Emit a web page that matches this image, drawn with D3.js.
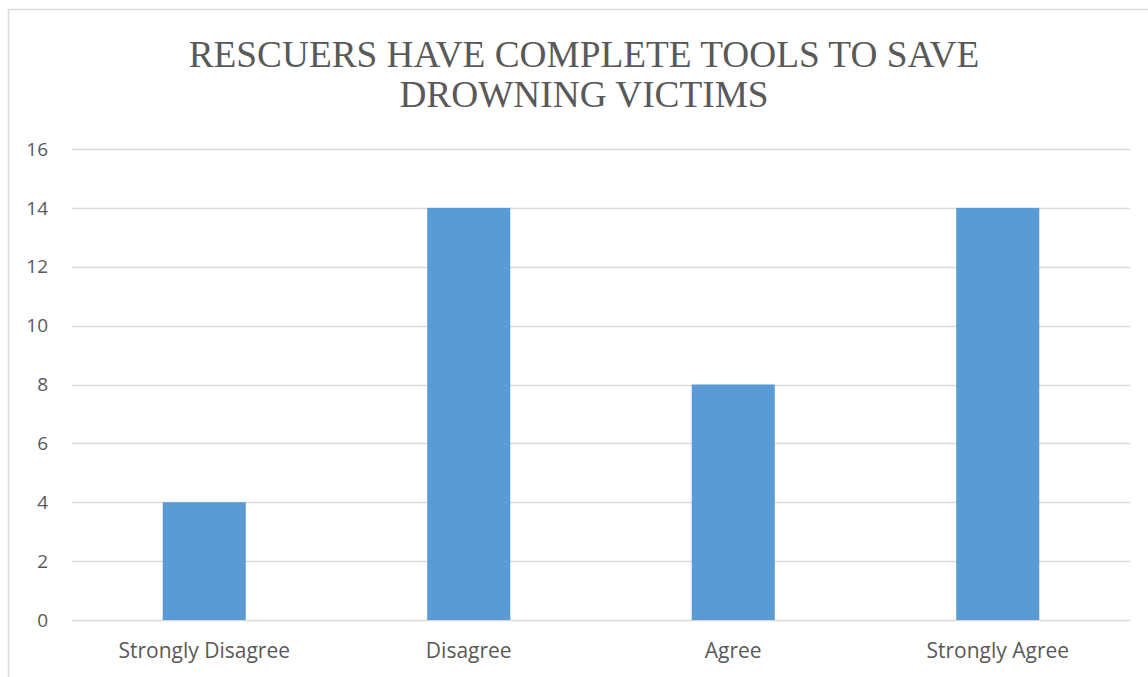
<!DOCTYPE html>
<html>
<head>
<meta charset="utf-8">
<script src="https://cdn.jsdelivr.net/npm/d3@7"></script>
<style>
  body { margin: 0; background: #fff; }
  svg { display: block; }
</style>
</head>
<body>
<svg id="chart"></svg>
<script>
// Chart data
let categories = ['Strongly Disagree', 'Disagree', 'Agree', 'Strongly Agree'];
let counts = [4, 14, 8, 14];
let yTicks = [0, 2, 4, 6, 8, 10, 12, 14, 16];
let titleLines = ['RESCUERS HAVE COMPLETE TOOLS TO SAVE', 'DROWNING VICTIMS'];

let width = 1148;
let height = 677;

// plot area
let plotLeft = 72, plotRight = 1130, plotTop = 149, plotBottom = 620;

let svg = d3.select('#chart')
    .attr('width', width)
    .attr('height', height);

// chart border (runs off the right and bottom edges)
svg.append('rect')
    .attr('x', 8.5)
    .attr('y', 9.5)
    .attr('width', width + 10)
    .attr('height', height + 10)
    .attr('fill', 'none')
    .attr('stroke', '#d9d9d9')
    .attr('stroke-width', 1.5);

let x = d3.scaleBand()
    .domain(categories)
    .range([plotLeft, plotRight])
    .paddingInner(0.686)
    .paddingOuter(0.343);

let y = d3.scaleLinear()
    .domain([0, 16])
    .range([plotBottom, plotTop]);

// gridlines
svg.append('g')
    .selectAll('line')
    .data(yTicks)
    .join('line')
    .attr('x1', plotLeft)
    .attr('x2', plotRight)
    .attr('y1', d => Math.round(y(d)) + 0.5)
    .attr('y2', d => Math.round(y(d)) + 0.5)
    .attr('stroke', '#d9d9d9')
    .attr('stroke-width', 1.3);

// y tick labels
svg.append('g')
    .selectAll('text')
    .data(yTicks)
    .join('text')
    .attr('x', 48)
    .attr('y', d => y(d))
    .attr('dy', '0.35em')
    .attr('text-anchor', 'end')
    .attr('font-family', 'Open Sans, sans-serif')
    .attr('font-size', 19)
    .attr('fill', '#595959')
    .text(d => d);

// bars
svg.append('g')
    .selectAll('rect')
    .data(counts)
    .join('rect')
    .attr('x', (d, i) => x(categories[i]))
    .attr('y', d => y(d))
    .attr('width', x.bandwidth())
    .attr('height', d => y(0) - y(d))
    .attr('fill', '#5b9bd5');

// category labels
svg.append('g')
    .selectAll('text')
    .data(categories)
    .join('text')
    .attr('x', d => x(d) + x.bandwidth() / 2)
    .attr('y', 658)
    .attr('text-anchor', 'middle')
    .attr('font-family', 'Open Sans, sans-serif')
    .attr('font-size', 21)
    .attr('fill', '#595959')
    .text(d => d);

// title
svg.append('g')
    .selectAll('text')
    .data(titleLines)
    .join('text')
    .attr('x', 584)
    .attr('y', (d, i) => 67 + i * 40)
    .attr('text-anchor', 'middle')
    .attr('font-family', 'Liberation Serif, serif')
    .attr('font-size', 37.3)
    .attr('fill', '#595959')
    .text(d => d);
</script>
</body>
</html>
